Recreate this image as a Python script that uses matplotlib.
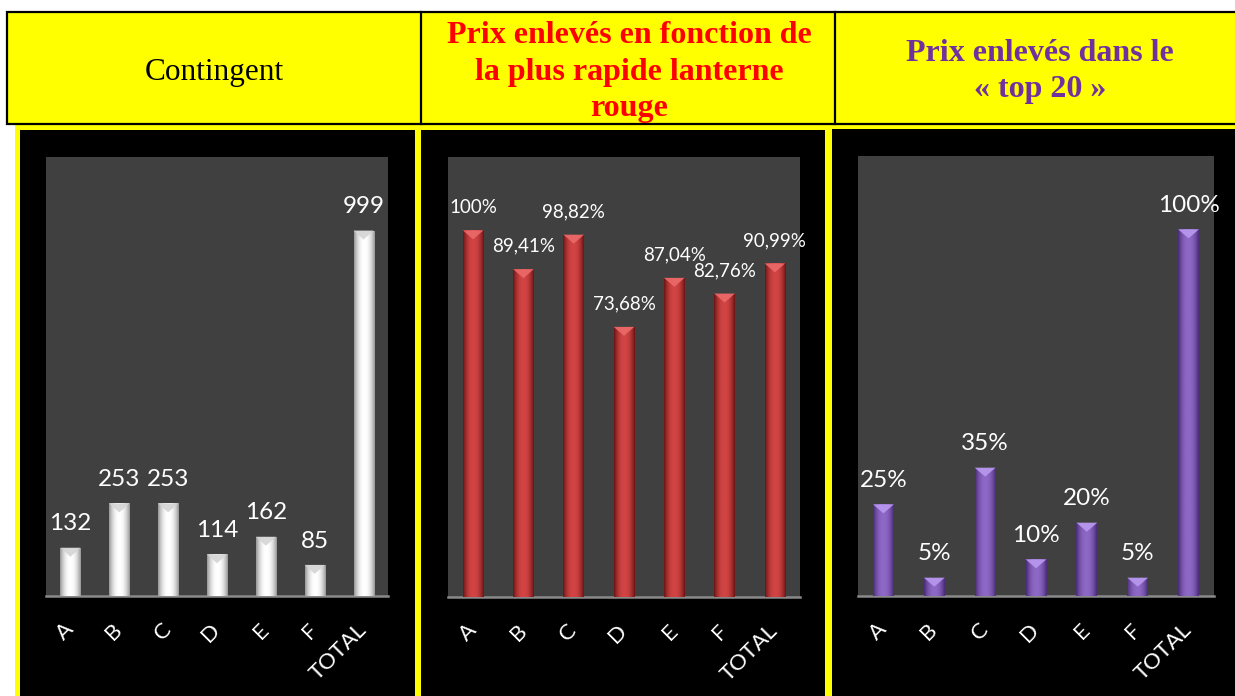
import numpy as np
import matplotlib
matplotlib.use("Agg")
import matplotlib.pyplot as plt
from matplotlib.patches import Rectangle, Polygon
from matplotlib.lines import Line2D
from matplotlib.colors import LinearSegmentedColormap

# ---------------- data ----------------
categories = ["A", "B", "C", "D", "E", "F", "TOTAL"]
contingent = [132, 253, 253, 114, 162, 85, 999]
prix_lanterne = [1.00, 0.8941, 0.9882, 0.7368, 0.8704, 0.8276, 0.9099]
prix_top20 = [0.25, 0.05, 0.35, 0.10, 0.20, 0.05, 1.00]

header_1 = ["Contingent"]
header_2 = ["Prix enlevés en fonction de", "la plus rapide lanterne", "rouge"]
header_3 = ["Prix enlevés dans le", "« top 20 »"]

W, H = 1235, 696
fig = plt.figure(figsize=(W / 100, H / 100), dpi=100)
fig.patch.set_facecolor("white")

YELLOW = "#FFFF00"


def fx(x):
    return x / W


def fy(y):
    return 1 - y / H


def add_rect(x0, y0, x1, y1, fc, ec="none", lw=0, z=0):
    r = Rectangle((fx(x0), fy(y1)), fx(x1) - fx(x0), fy(y0) - fy(y1),
                  transform=fig.transFigure, facecolor=fc, edgecolor=ec,
                  linewidth=lw, zorder=z)
    fig.add_artist(r)


# ---------------- header ----------------
add_rect(7, 12, 1250, 124, YELLOW, "black", 1.6, z=1)
for xv in (421, 835):
    fig.add_artist(Line2D([fx(xv), fx(xv)], [fy(12), fy(124)], color="black",
                          lw=1.6, transform=fig.transFigure, zorder=2))

serif = "Liberation Serif"
fig.text(fx(214), fy(80), header_1[0], ha="center", va="baseline",
         fontsize=22.5, family=serif, color="black")
for i, (line, yb) in enumerate(zip(header_2, [43, 80, 116])):
    fig.text(fx(629), fy(yb), line, ha="center", va="baseline",
             fontsize=23, family=serif, weight="bold", color="#FF0000")
for i, (line, yb) in enumerate(zip(header_3, [61, 97])):
    fig.text(fx(1040), fy(yb), line, ha="center", va="baseline",
             fontsize=23, family=serif, weight="bold", color="#7030A0")

# ---------------- panels frames ----------------
add_rect(15, 125, 421, 720, YELLOW, z=0)
add_rect(20, 130, 415, 720, "black", z=0.5)
add_rect(415, 125, 832, 720, YELLOW, z=0)
add_rect(421, 130, 825, 720, "black", z=0.5)
add_rect(825, 124, 1250, 720, YELLOW, z=0.4)
add_rect(832, 129, 1250, 720, "black", z=0.5)

# ---------------- charts ----------------
panels = [
    dict(box=(46, 157, 388, 596), vals=contingent, ymax=1200,
         edge="#969696", mid="#ffffff", bevel="#d4d4d4", lab_fs=17.5,
         fmt=lambda v: f"{v}"),
    dict(box=(448, 157, 800, 597), vals=prix_lanterne, ymax=1.2,
         edge="#6a1414", mid="#d24444", bevel="#ec6a6a", lab_fs=13.5,
         fmt=None),
    dict(box=(858, 156, 1214, 596), vals=prix_top20, ymax=1.2,
         edge="#482a74", mid="#8d68c6", bevel="#b99af0", lab_fs=17.5,
         fmt=None),
]


def pct(v):
    p = round(v * 100, 2)
    if abs(p - round(p)) < 1e-9:
        return f"{int(round(p))}%"
    return f"{p:.2f}".replace(".", ",") + "%"


x = np.arange(len(categories))
bar_w = 0.41
profile = np.linspace(-1, 1, 64)
profile = 1 - np.abs(profile) ** 2.2

for p in panels:
    x0, y0, x1, y1 = p["box"]
    ax = fig.add_axes([fx(x0), fy(y1), fx(x1) - fx(x0), fy(y0) - fy(y1)],
                      zorder=3)
    ax.set_facecolor("#404040")
    cmap = LinearSegmentedColormap.from_list("g", [p["edge"], p["mid"]])
    bars = ax.bar(x, p["vals"], width=bar_w, color=p["mid"], zorder=2,
                  linewidth=0)
    ax_h_px = y1 - y0
    bevel_h = p["ymax"] * 9 / ax_h_px
    for b in bars:
        bx, bw, bh = b.get_x(), b.get_width(), b.get_height()
        im = ax.imshow(profile[np.newaxis, :], extent=(bx, bx + bw, 0, bh),
                       cmap=cmap, aspect="auto", zorder=3, vmin=0, vmax=1,
                       interpolation="bilinear")
        im.set_clip_path(b)
        tri = Polygon([(bx, bh), (bx + bw, bh), (bx + bw / 2, bh - bevel_h)],
                      closed=True, facecolor=p["bevel"], edgecolor="none",
                      zorder=4, alpha=0.9)
        ax.add_patch(tri)
        val = bh
        txt = p["fmt"](val) if p["fmt"] else pct(val)
        ax.annotate(txt, (bx + bw / 2, bh), xytext=(0, 12.5),
                    textcoords="offset points", ha="center", va="baseline",
                    color="white", fontsize=p["lab_fs"], family="Lato",
                    zorder=5, annotation_clip=False)
    ax.set_xlim(-0.5, len(categories) - 0.5)
    ax.set_ylim(0, p["ymax"])
    ax.set_yticks([])
    ax.set_xticks(x)
    ax.set_xticklabels(categories, rotation=45, ha="right", va="center",
                       rotation_mode="anchor", color="white", fontsize=16,
                       family="Lato")
    ax.tick_params(axis="x", length=0, pad=22)
    for s in ("top", "left", "right"):
        ax.spines[s].set_visible(False)
    ax.spines["bottom"].set_color("#8a8a8a")
    ax.spines["bottom"].set_linewidth(1.8)

fig.savefig("out.png", dpi=100, facecolor=fig.get_facecolor())
